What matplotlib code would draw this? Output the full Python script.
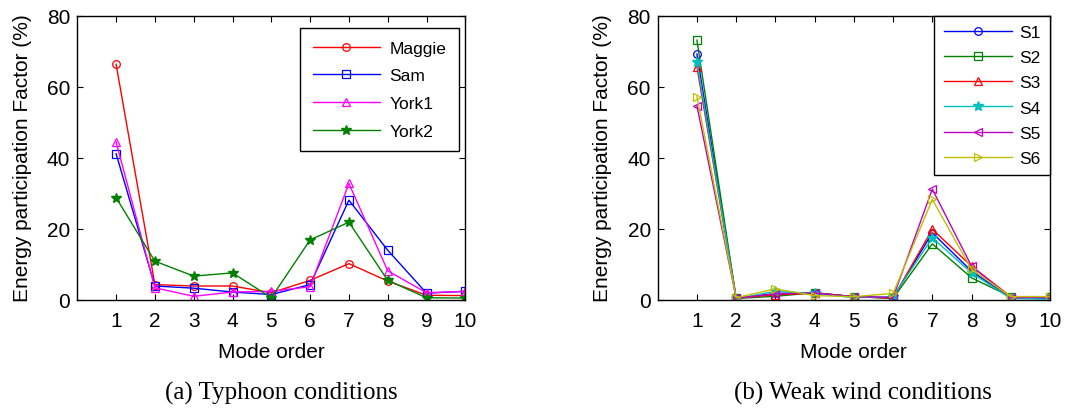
import numpy as np
import matplotlib.pyplot as plt

plt.rcParams['font.family'] = ['Liberation Sans', 'DejaVu Sans']

modes = np.arange(1, 11)

# typhoon records
maggie = [66.3, 4.2, 3.8, 3.8, 1.9, 5.4, 10.1, 5.2, 1.2, 1.1]
sam = [41.1, 3.8, 3.2, 2.1, 1.4, 4.2, 28.0, 13.9, 1.8, 2.3]
york1 = [44.4, 3.3, 0.9, 2.1, 2.3, 3.6, 32.7, 8.1, 1.9, 2.3]
york2 = [28.7, 10.8, 6.6, 7.5, 0.5, 16.8, 21.8, 5.4, 0.5, 0.4]

# weak wind records
s1 = [69.2, 0.3, 1.7, 1.9, 0.8, 0.5, 18.8, 8.0, 0.5, 0.3]
s2 = [73.1, 0.3, 0.9, 1.9, 0.8, 0.3, 15.7, 6.1, 0.8, 0.8]
s3 = [65.6, 0.4, 1.3, 1.8, 0.8, 0.4, 19.8, 9.4, 0.8, 0.8]
s4 = [67.0, 0.2, 2.3, 1.7, 0.5, 0.8, 17.4, 7.5, 0.3, 0.1]
s5 = [54.6, 0.4, 1.6, 1.8, 0.8, 0.6, 31.1, 9.4, 0.5, 0.6]
s6 = [57.1, 0.5, 3.0, 1.1, 0.8, 1.7, 28.2, 8.5, 0.8, 0.8]

W, H = 1067, 414
fig = plt.figure(figsize=(W / 100, H / 100), dpi=100)
ax1 = fig.add_axes([77.3 / W, 1 - 300.5 / H, 388 / W, 283.8 / H])
ax2 = fig.add_axes([657.7 / W, 1 - 300.5 / H, 392.3 / W, 283.8 / H])


def style(ax):
    ax.set_xlim(0, 10)
    ax.set_ylim(0, 80)
    ax.set_xticks(modes)
    ax.set_yticks([0, 20, 40, 60, 80])
    ax.tick_params(direction='in', length=4, width=0.8, labelsize=15,
                   top=True, right=True)
    ax.tick_params(axis='x', pad=8)
    ax.tick_params(axis='y', pad=5)
    for sp in ax.spines.values():
        sp.set_linewidth(1.0)
    ax.set_xlabel('Mode order', fontsize=15, labelpad=9)
    ax.set_ylabel('Energy participation Factor (%)', fontsize=15, labelpad=11)


kw = dict(lw=1, mfc='none', ms=5.5, mew=0.9)
ax1.plot(modes, maggie, 'o-', color='red', label='Maggie', **kw)
ax1.plot(modes, sam, 's-', color='blue', label='Sam', **kw)
ax1.plot(modes, york1, '^-', color='magenta', label='York1', **kw)
ax1.plot(modes, york2, '*-', color=(0, 0.5, 0), label='York2', lw=1, ms=7)
style(ax1)
leg = ax1.legend(loc='upper right', bbox_to_anchor=(459 / W, 1 - 29 / H),
                 bbox_transform=fig.transFigure, borderaxespad=0,
                 fontsize=12.5, fancybox=False, edgecolor='black', framealpha=1,
                 handlelength=3.85, handletextpad=0.57,
                 borderpad=0.72, labelspacing=0.72)
leg.get_frame().set_linewidth(1.0)

cols = [(0, 0, 1), (0, 0.5, 0), (1, 0, 0), (0, 0.75, 0.75), (0.75, 0, 0.75), (0.75, 0.75, 0)]
marks = ['o', 's', '^', '*', '<', '>']
names = ['S1', 'S2', 'S3', 'S4', 'S5', 'S6']
for vals, c, m, n in zip([s1, s2, s3, s4, s5, s6], cols, marks, names):
    if m == '*':
        ax2.plot(modes, vals, m + '-', color=c, label=n, lw=1, ms=7)
    else:
        ax2.plot(modes, vals, m + '-', color=c, label=n, **kw)
style(ax2)
leg2 = ax2.legend(loc='upper right', bbox_to_anchor=(1050 / W, 1 - 16.7 / H),
                  bbox_transform=fig.transFigure, borderaxespad=0,
                  fontsize=12.5, fancybox=False, edgecolor='black', framealpha=1,
                  handlelength=3.95, handletextpad=0.4,
                  borderpad=0.55, labelspacing=0.57)
leg2.get_frame().set_linewidth(1.0)

fig.text(281.7 / W, 1 - 393 / H, '(a) Typhoon conditions', ha='center', va='center',
         fontsize=18, family='Liberation Serif')
fig.text(863 / W, 1 - 393 / H, '(b) Weak wind conditions', ha='center', va='center',
         fontsize=18, family='Liberation Serif')

fig.savefig('out.png', dpi=100)
